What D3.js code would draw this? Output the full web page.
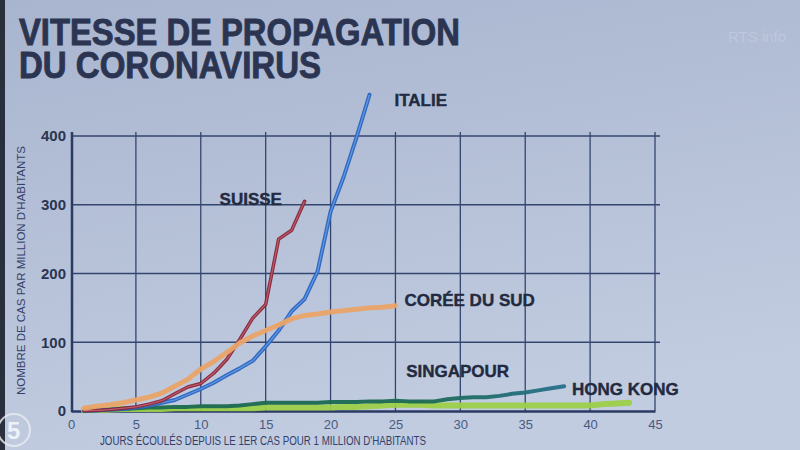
<!DOCTYPE html>
<html>
<head>
<meta charset="utf-8">
<script src="https://cdn.jsdelivr.net/npm/d3@7"></script>
<style>
  html, body { margin: 0; padding: 0; background: #b4c0d8; }
  svg { display: block; }
</style>
</head>
<body>
<svg id="chart" width="800" height="450"></svg>
<script>
// days since 1 case per million inhabitants
const italie = [[1,0.5],[2,1],[3,2],[4,3],[5,5],[6,8],[7,12],[8,16],[9,24],[10,32],[11,41],[12,52],[13,62],[14,73],[15,94],[16,117],[17,145],[18,163],[19,203],[20,290],[21,340],[22,398],[23,460]];
const suisse = [[1,0.5],[2,1],[3,2],[4,4],[5,6],[6,10],[7,15],[8,25],[9,35],[10,40],[11,55],[12,75],[13,104],[14,135],[15,155],[16,250],[17,263],[18,305]];
const coree = [[1,4],[2,7],[3,9],[4,12],[5,16],[6,20],[7,26],[8,36],[9,46],[10,61],[11,72],[12,85],[13,99],[14,109],[15,117],[16,125],[17,134],[18,139],[19,141],[20,144],[21,146],[22,148],[23,150],[24,151],[25,153]];
const singapour = [[1,0.5],[2,1],[3,2],[4,3],[5,4],[6,5],[7,5],[8,6],[9,6],[10,7],[11,7],[12,7],[13,8],[14,10],[15,12],[16,12],[17,12],[18,12],[19,12],[20,13],[21,13],[22,13],[23,14],[24,14],[25,15],[26,14],[27,14],[28,14],[29,17],[30,19],[31,20],[32,20],[33,22],[34,25],[35,27],[36,30],[37,33],[38,36]];
const hongKong = [[1,1],[2,2],[3,2],[4,3],[5,3],[6,3],[7,3],[8,4],[9,4],[10,4],[11,4],[12,4],[13,4],[14,4],[15,5],[16,5],[17,5],[18,5],[19,5],[20,5],[21,6],[22,6],[23,7],[24,8],[25,9],[26,9],[27,9],[28,8],[29,8],[30,8],[31,8],[32,8],[33,8],[34,8],[35,8],[36,8],[37,8],[38,8],[39,8],[40,8],[41,10],[42,11],[43,12]];

const xTicks = [0, 5, 10, 15, 20, 25, 30, 35, 40, 45];
const yTicks = [0, 100, 200, 300, 400];
const titleLines = ['VITESSE DE PROPAGATION', 'DU CORONAVIRUS'];

const svg = d3.select('#chart');
const navy = '#2b3552';
const font = '"Liberation Sans", Arial, sans-serif';

// background, a bit like the TV screen
const defs = svg.append('defs');
const bg = defs.append('linearGradient').attr('id', 'bg')
    .attr('x1', 0).attr('y1', 0).attr('x2', 0.3).attr('y2', 1);
bg.append('stop').attr('offset', '0%').attr('stop-color', '#a9b5cf');
bg.append('stop').attr('offset', '100%').attr('stop-color', '#c1cce0');
svg.append('rect').attr('width', 800).attr('height', 450).attr('fill', 'url(#bg)');
svg.append('rect').attr('width', 5).attr('height', 450).attr('fill', '#2a2f3e');

const x = d3.scaleLinear().domain([0, 45]).range([71, 655]);
const y = d3.scaleLinear().domain([0, 400]).range([411, 136]);

// title, one text block with two lines
const title = svg.append('text')
    .style('font-family', font)
    .style('font-weight', 'bold')
    .style('font-size', '36px')
    .style('fill', navy)
    .style('stroke', navy)
    .style('stroke-width', '0.9px');
title.selectAll('tspan')
    .data(titleLines)
    .enter()
    .append('tspan')
        .attr('x', 19)
        .attr('y', (d, i) => 45 + i * 33)
        .attr('textLength', (d, i) => (i === 0 ? 441 : 302))
        .attr('lengthAdjust', 'spacingAndGlyphs')
        .text(d => d);

// grid
const grid = svg.append('g').attr('stroke', '#34466f').attr('stroke-width', 1.3);
grid.selectAll('.v')
    .data(xTicks.filter(d => d > 0))
    .enter()
    .append('line')
        .attr('x1', d => x(d)).attr('x2', d => x(d))
        .attr('y1', y(0)).attr('y2', y(400) - 4);
grid.selectAll('.h')
    .data(yTicks.filter(d => d > 0))
    .enter()
    .append('line')
        .attr('x1', x(0)).attr('x2', x(45) + 5)
        .attr('y1', d => y(d)).attr('y2', d => y(d));

// axes
const xAxis = svg.append('g')
    .attr('transform', `translate(0,${y(0)})`)
    .call(d3.axisBottom(x).tickValues(xTicks).tickSize(0).tickPadding(9));
xAxis.select('.domain').attr('stroke', '#2a3a63').attr('stroke-width', 2.5);
xAxis.selectAll('text')
    .style('font-family', font)
    .style('font-size', '13px')
    .style('fill', '#4a5a80');

const yAxis = svg.append('g')
    .attr('transform', `translate(${x(0) + 1},0)`)
    .call(d3.axisLeft(y).tickValues(yTicks).tickSize(0).tickPadding(6));
yAxis.select('.domain').attr('d', `M0,${y(0) + 1}V${y(400) - 4}`)
    .attr('stroke', '#2a3a63').attr('stroke-width', 2.5);
yAxis.selectAll('text')
    .style('font-family', font)
    .style('font-weight', 'bold')
    .style('font-size', '15px')
    .style('fill', navy);

svg.append('text')
    .attr('transform', `translate(25,${(y(0) + y(400)) / 2 - 3}) rotate(-90)`)
    .attr('text-anchor', 'middle')
    .text("NOMBRE DE CAS PAR MILLION D'HABITANTS")
    .style('font-family', font)
    .style('font-size', '11.5px')
    .style('fill', '#34406a');

svg.append('text')
    .attr('x', 100).attr('y', 445)
    .attr('textLength', 326)
    .attr('lengthAdjust', 'spacingAndGlyphs')
    .text("JOURS ÉCOULÉS DEPUIS LE 1ER CAS POUR 1 MILLION D'HABITANTS")
    .style('font-family', font)
    .style('font-size', '12px')
    .style('fill', '#34406a');

// singapore fades from green to teal at the end
const sg = defs.append('linearGradient').attr('id', 'sg')
    .attr('gradientUnits', 'userSpaceOnUse')
    .attr('x1', x(27)).attr('x2', x(38)).attr('y1', 0).attr('y2', 0);
sg.append('stop').attr('offset', '0%').attr('stop-color', '#1c6a52');
sg.append('stop').attr('offset', '100%').attr('stop-color', '#27708c');

const line = d3.line().x(d => x(d[0])).y(d => y(d[1])).curve(d3.curveLinear);

const series = [
    { data: hongKong, stroke: '#9ccf48', width: 6, inner: null },
    { data: singapour, stroke: 'url(#sg)', width: 4, inner: null },
    { data: italie, stroke: '#2c64c0', width: 4, inner: '#5d9be6' },
    { data: suisse, stroke: '#862538', width: 3.5, inner: '#c05a6a' },
    { data: coree, stroke: '#eaa468', width: 5, inner: null },
];

series.forEach((s) => {
    svg.append('path')
        .datum(s.data)
        .attr('d', line)
        .attr('fill', 'none')
        .attr('stroke', s.stroke)
        .attr('stroke-width', s.width)
        .attr('stroke-linejoin', 'round')
        .attr('stroke-linecap', 'round')
        .attr('opacity', 0.95);
    if (s.inner) {
        svg.append('path')
            .datum(s.data)
            .attr('d', line)
            .attr('fill', 'none')
            .attr('stroke', s.inner)
            .attr('stroke-width', 1.2)
            .attr('stroke-linejoin', 'round');
    }
});

// series labels, placed from the data
const labels = [
    { text: 'ITALIE', day: 23, value: 460, dx: 25, dy: 11 },
    { text: 'SUISSE', day: 18, value: 305, dx: -85, dy: 4 },
    { text: 'CORÉE DU SUD', day: 25, value: 153, dx: 9, dy: 0 },
    { text: 'SINGAPOUR', day: 38, value: 36, dx: -158, dy: -9 },
    { text: 'HONG KONG', day: 43, value: 12, dx: -57, dy: -8 },
];
svg.append('g')
    .selectAll('text')
    .data(labels)
    .enter()
    .append('text')
        .attr('x', d => x(d.day) + d.dx)
        .attr('y', d => y(d.value) + d.dy)
        .text(d => d.text)
        .style('font-family', font)
        .style('font-weight', 'bold')
        .style('font-size', '17px')
        .style('fill', '#232a40')
        .style('stroke', '#232a40')
        .style('stroke-width', '0.4px');

// channel bug, bottom left
svg.append('circle').attr('cx', 14).attr('cy', 430).attr('r', 16)
    .attr('fill', 'none').attr('stroke', '#e8ecf4').attr('stroke-width', 2).attr('opacity', 0.8);
svg.append('text').attr('x', 7).attr('y', 439).text('5')
    .style('font-family', font)
    .style('font-weight', 'bold').style('font-size', '24px').style('fill', '#eef1f7');
svg.append('text').attr('x', 728).attr('y', 42).text('RTS info')
    .style('font-family', font)
    .style('font-size', '15px').style('fill', '#c4cde0').attr('opacity', 0.7);
</script>
</body>
</html>
